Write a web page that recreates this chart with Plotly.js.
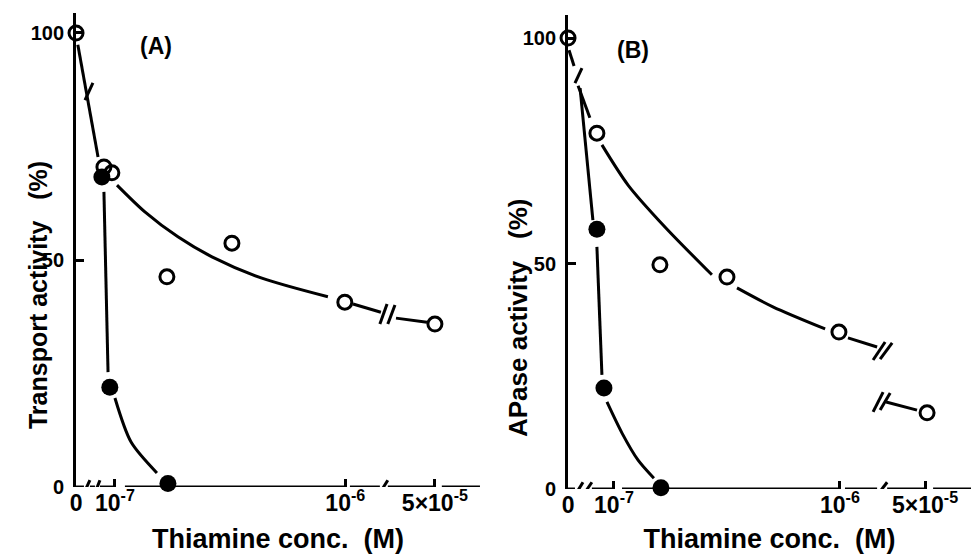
<!DOCTYPE html>
<html>
<head>
<meta charset="utf-8">
<script src="https://cdn.plot.ly/plotly-3.0.1.min.js"></script>
<style>html,body{margin:0;padding:0;background:#fff;}#chart{width:971px;height:554px;}</style>
</head>
<body>
<div id="chart"></div>
<script>
// ---- Data (x in axis units: 1 unit = 1e-7 M between the 10^-7 and 10^-6 ticks;
//      the 0 and 5x10^-5 positions sit across axis breaks) ----
const tickTextX = ['<b>0</b>', '<b>10<sup>-7</sup></b>', '<b>10<sup>-6</sup></b>', '<b>5×10<sup>-5</sup></b>'];
const tickValsA = [-0.52, 1, 10, 13.5];
const tickValsB = [-0.83, 1, 10, 13.39];
const tickValsY = [0, 50, 100];
const tickTextY = ['<b>0</b>', '<b>50</b>', '<b>100</b>'];

// Panel A: Transport activity (%)
const aOpenX   = [-0.52, 0.57, 0.88, 3.03, 5.57, 9.98, 13.5];
const aOpenY   = [100, 70.5, 69.2, 46.3, 53.7, 40.7, 35.9];
const aFilledX = [0.49, 0.80, 3.07];
const aFilledY = [68.3, 22.0, 0.8];
// hand-drawn curves of panel A (null = gap)
const aCurveX = [-0.45, 0.34, null, 0.57, 0.73, null, 1.0, 1.63, 2.64, null,
                 1.08, 2.17, 3.46, 4.79, 6.74, 9.32, null, 10.3, 11.39, null, 11.98, 13.19];
const aCurveY = [97.4, 72.7, null, 65.0, 25.3, null, 19.6, 9.9, 3.1, null,
                 66.5, 60.6, 55.1, 50.7, 46.0, 41.9, null, 40.3, 38.5, null, 37.2, 36.3];

// Panel B: APase activity (%)
const bOpenX   = [-0.83, 0.32, 2.83, 5.50, 9.96, 13.47];
const bOpenY   = [100, 78.9, 49.7, 47.0, 34.8, 16.9];
const bFilledX = [0.32, 0.60, 2.87];
const bFilledY = [57.6, 22.4, 0.3];
const bCurveX = [-0.79, -0.59, null, -0.43, 0.04, null, -0.35, 0.16, null, 0.32, 0.52, null,
                 0.72, 1.32, 1.96, 2.59, null, 0.52, 1.56, 3.03, 4.90, null,
                 5.90, 7.33, 9.41, null, 10.32, 11.48, null, 11.84, 13.07];
const bCurveY = [97.3, 93.8, null, 89.4, 82.3, null, 88.9, 59.6, null, 53.7, 25.3, null,
                 19.3, 12.4, 6.4, 2.4, null, 76.3, 67.4, 58.1, 47.5, null,
                 44.6, 40.4, 35.5, null, 33.5, 31.5, null, 19.3, 17.5];

// ---- Styles ----
const FONT = '"Liberation Sans", Arial, sans-serif';
const LW = 3;

function curveTrace(x, y, xa, ya, name) {
  return {x: x, y: y, xaxis: xa, yaxis: ya, type: 'scatter', mode: 'lines', name: name,
          line: {color: '#000', width: LW, shape: 'spline', smoothing: 0.8},
          connectgaps: false, cliponaxis: false, hoverinfo: 'skip', showlegend: false};
}
function openTrace(x, y, xa, ya, name) {
  return {x: x, y: y, xaxis: xa, yaxis: ya, type: 'scatter', mode: 'markers', name: name,
          marker: {symbol: 'circle-open', size: 14, color: '#000', line: {width: 3, color: '#000'}},
          cliponaxis: false, showlegend: false};
}
function filledTrace(x, y, xa, ya, name) {
  return {x: x, y: y, xaxis: xa, yaxis: ya, type: 'scatter', mode: 'markers', name: name,
          marker: {symbol: 'circle', size: 17, color: '#000'},
          cliponaxis: false, showlegend: false};
}

const data = [
  curveTrace(aCurveX, aCurveY, 'x', 'y', 'fit A'),
  curveTrace(bCurveX, bCurveY, 'x2', 'y2', 'fit B'),
  openTrace(aOpenX, aOpenY, 'x', 'y', 'A open'),
  filledTrace(aFilledX, aFilledY, 'x', 'y', 'A filled'),
  openTrace(bOpenX, bOpenY, 'x2', 'y2', 'B open'),
  filledTrace(bFilledX, bFilledY, 'x2', 'y2', 'B filled')
];

// ---- Decorations: broken x axis lines and break marks ----
const shapes = [];
function seg(xr, yr, x0, y0, x1, y1) {
  shapes.push({type: 'line', xref: xr, yref: yr, x0: x0, y0: y0, x1: x1, y1: y1,
               line: {color: '#000', width: LW}, layer: 'above'});
}
// Panel A x axis (y = 0)
[[-0.523, -0.211], [0.023, 0.219], [0.414, 1.0], [1.39, 9.98], [10.18, 11.35], [11.66, 13.5], [13.77, 15.26]]
  .forEach(s => seg('x', 'y', s[0], 0, s[1], 0));
seg('x', 'y', -0.211, -1.3, 0.023, 1.5);
seg('x', 'y', 0.219, -1.3, 0.414, 1.5);
seg('x', 'y', 11.35, -1.3, 11.66, 1.5);
// Panel A curve breaks
seg('x', 'y', -0.17, 85.2, 0.14, 89.0);
seg('x', 'y', 11.35, 35.9, 11.63, 40.3);
seg('x', 'y', 11.66, 35.9, 11.94, 40.1);
// Panel B x axis
[[-0.833, -0.554], [0.12, 1.0], [1.32, 10.0], [10.2, 11.48], [11.88, 13.39], [13.71, 15.22]]
  .forEach(s => seg('x2', 'y2', s[0], 0, s[1], 0));
seg('x2', 'y2', -0.554, -1.4, -0.235, 1.5);
seg('x2', 'y2', -0.235, -1.4, 0.12, 1.5);
seg('x2', 'y2', 11.48, -1.4, 11.88, 1.5);
// Panel B curve breaks
seg('x2', 'y2', -0.554, 90.0, -0.275, 93.3);
seg('x2', 'y2', 11.32, 28.6, 11.80, 32.6);
seg('x2', 'y2', 11.60, 28.8, 12.08, 32.4);
seg('x2', 'y2', 11.32, 17.1, 11.72, 21.5);
seg('x2', 'y2', 11.60, 17.5, 12.00, 21.3);

function xAxis(dom, rng, tv) {
  return {domain: dom, range: rng, tickvals: tv, ticktext: tickTextX, tickmode: 'array',
          showline: false, showgrid: false, zeroline: false, ticks: 'inside', ticklen: 8,
          tickwidth: 3, tickcolor: '#000', tickfont: {family: FONT, size: 23, color: '#000'},
          automargin: false, fixedrange: true,
          title: {text: '<b>Thiamine conc.\u00A0\u00A0(M)</b>', font: {family: FONT, size: 27, color: '#000'}, standoff: 14}};
}
function yAxis(dom, rng, anchor) {
  return {domain: dom, range: rng, anchor: anchor, tickvals: tickValsY, ticktext: tickTextY,
          tickmode: 'array', showline: true, linewidth: 3, linecolor: '#000', mirror: false,
          showgrid: false, zeroline: false, ticks: 'inside', ticklen: 8, tickwidth: 3,
          tickcolor: '#000', tickfont: {family: FONT, size: 20, color: '#000'},
          ticklabelstandoff: 5, automargin: false, fixedrange: true};
}

const layout = {
  width: 971, height: 554, paper_bgcolor: '#fff', plot_bgcolor: '#fff',
  font: {family: FONT, color: '#000'},
  margin: {l: 0, r: 0, t: 0, b: 0, pad: 0}, showlegend: false,
  xaxis: Object.assign(xAxis([0.0783, 0.4943], [-0.52, 15.26], tickValsA), {anchor: 'y'}),
  yaxis: yAxis([0.1209, 0.9765], [0, 104.4], 'x'),
  xaxis2: Object.assign(xAxis([0.585, 1.0], [-0.83, 15.22], tickValsB), {anchor: 'y2'}),
  yaxis2: yAxis([0.1173, 0.9729], [0, 105.1], 'x2'),
  shapes: shapes,
  annotations: [
    {text: '<b>(A)</b>', xref: 'paper', yref: 'paper', x: 0.1421, y: 0.944, showarrow: false,
     font: {family: FONT, size: 23, color: '#000'}},
    {text: '<b>(B)</b>', xref: 'paper', yref: 'paper', x: 0.6519, y: 0.9368, showarrow: false,
     font: {family: FONT, size: 23, color: '#000'}},
    {text: '<b>Transport activity\u00A0\u00A0\u00A0(%)</b>', xref: 'paper', yref: 'paper', x: 0.0227, y: 0.4675,
     textangle: -90, showarrow: false, font: {family: FONT, size: 25, color: '#000'}},
    {text: '<b>APase activity\u00A0\u00A0\u00A0(%)</b>', xref: 'paper', yref: 'paper', x: 0.5335, y: 0.426,
     textangle: -90, showarrow: false, font: {family: FONT, size: 26, color: '#000'}}
  ]
};

Plotly.newPlot('chart', data, layout, {displayModeBar: false, staticPlot: true});
</script>
</body>
</html>
